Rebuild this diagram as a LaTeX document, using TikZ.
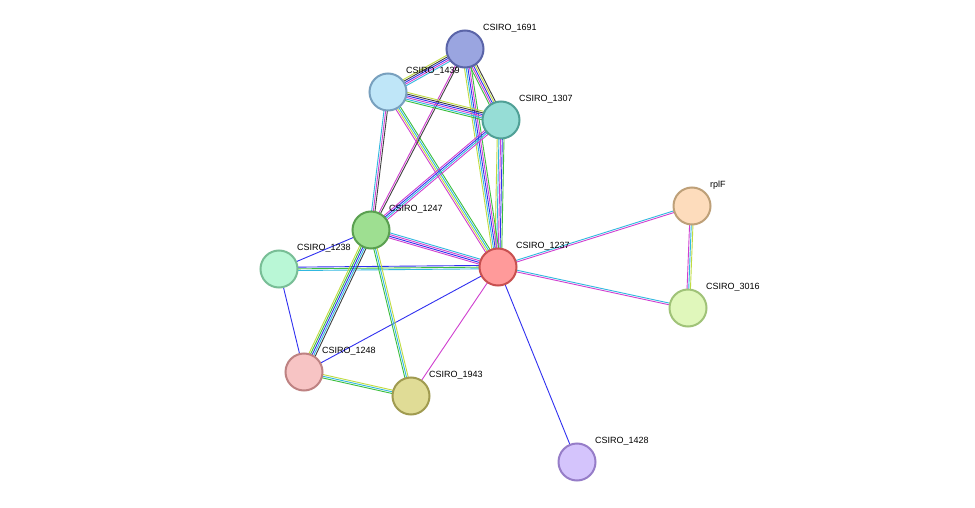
\documentclass[tikz,border=0pt]{standalone}
\usepackage{fontspec}
\setmainfont{Liberation Sans}
\usetikzlibrary{calc}
\definecolor{cG}{HTML}{3DBF3D}
\definecolor{cB}{HTML}{3030F0}
\definecolor{cM}{HTML}{D040D0}
\definecolor{cC}{HTML}{30B8E0}
\definecolor{cK}{HTML}{404040}
\definecolor{cY}{HTML}{C0DC40}
\newcommand\sedge[4]{%
  \foreach \c [count=\i] in {#4} {%
    \pgfmathsetmacro\off{(\i-(#3+1)/2)*1.7}%
    \draw[\c,line width=0.9pt] ($(#1)!\off pt!90:(#2)$) -- ($(#2)!\off pt!-90:(#1)$);
  }}
\begin{document}
\begin{tikzpicture}[x=1pt,y=-1pt,
  prot/.style={circle,minimum size=37pt,inner sep=0pt,line width=2pt},
  lab/.style={anchor=west,font=\fontsize{9}{10}\selectfont,inner sep=0pt}]
\useasboundingbox[fill=white] (0,0) rectangle (975,508);
\path
 (465,49) coordinate (n1691)
 (388,92) coordinate (n1439)
 (501,120) coordinate (n1307)
 (371,230) coordinate (n1247)
 (279,269) coordinate (n1238)
 (498,267) coordinate (n1237)
 (692,206) coordinate (nrplF)
 (688,308) coordinate (n3016)
 (304,372) coordinate (n1248)
 (411,396) coordinate (n1943)
 (577,462) coordinate (n1428);
\sedge{n1237}{nrplF}{2}{cM,cC}
\sedge{n1237}{n3016}{2}{cM,cC}
\sedge{nrplF}{n3016}{3}{cM,cC,cY}
\sedge{n1237}{n1428}{1}{cB}
\sedge{n1237}{n1943}{1}{cM}
\sedge{n1237}{n1248}{1}{cB}
\sedge{n1237}{n1238}{3}{cB,cG,cC}
\sedge{n1237}{n1247}{4}{cC,cM,cB,cM}
\sedge{n1237}{n1439}{4}{cG,cC,cY,cM}
\sedge{n1237}{n1307}{5}{cG,cB,cM,cC,cY}
\sedge{n1237}{n1691}{5}{cG,cM,cB,cC,cY}
\sedge{n1238}{n1247}{1}{cB}
\sedge{n1238}{n1248}{1}{cB}
\sedge{n1247}{n1248}{5}{cY,cG,cB,cC,cK}
\sedge{n1247}{n1943}{3}{cG,cC,cY}
\sedge{n1248}{n1943}{3}{cG,cC,cY}
\sedge{n1247}{n1439}{3}{cK,cM,cC}
\sedge{n1247}{n1691}{2}{cK,cM}
\sedge{n1247}{n1307}{4}{cM,cC,cB,cM}
\sedge{n1439}{n1691}{5}{cC,cM,cB,cK,cY}
\sedge{n1439}{n1307}{6}{cG,cC,cM,cB,cK,cY}
\sedge{n1691}{n1307}{5}{cG,cM,cB,cY,cK}
\node[prot,fill={rgb,255:red,154;green,165;blue,224},draw={rgb,255:red,90;green,100;blue,168}] (a1691) at (n1691) {};
\node[prot,fill={rgb,255:red,191;green,230;blue,248},draw={rgb,255:red,120;green,160;blue,190}] (a1439) at (n1439) {};
\node[prot,fill={rgb,255:red,150;green,221;blue,214},draw={rgb,255:red,80;green,160;blue,150}] (a1307) at (n1307) {};
\node[prot,fill={rgb,255:red,158;green,223;blue,145},draw={rgb,255:red,90;green,160;blue,80}] (a1247) at (n1247) {};
\node[prot,fill={rgb,255:red,185;green,247;blue,214},draw={rgb,255:red,120;green,190;blue,150}] (a1238) at (n1238) {};
\node[prot,fill={rgb,255:red,255;green,154;blue,154},draw={rgb,255:red,200;green,80;blue,80}] (a1237) at (n1237) {};
\node[prot,fill={rgb,255:red,253;green,220;blue,188},draw={rgb,255:red,190;green,160;blue,120}] (arplF) at (nrplF) {};
\node[prot,fill={rgb,255:red,224;green,247;blue,187},draw={rgb,255:red,160;green,195;blue,120}] (a3016) at (n3016) {};
\node[prot,fill={rgb,255:red,247;green,196;blue,196},draw={rgb,255:red,190;green,130;blue,130}] (a1248) at (n1248) {};
\node[prot,fill={rgb,255:red,224;green,220;blue,150},draw={rgb,255:red,160;green,155;blue,80}] (a1943) at (n1943) {};
\node[prot,fill={rgb,255:red,212;green,196;blue,252},draw={rgb,255:red,150;green,125;blue,200}] (a1428) at (n1428) {};
\node[lab] (l1691) at (483,28) {CSIRO\_1691};
\node[lab] (l1439) at (406,71) {CSIRO\_1439};
\node[lab] (l1307) at (519,99) {CSIRO\_1307};
\node[lab] (l1247) at (389,209) {CSIRO\_1247};
\node[lab] (l1238) at (297,248) {CSIRO\_1238};
\node[lab] (l1237) at (516,246) {CSIRO\_1237};
\node[lab] (lrplF) at (710,185) {rplF};
\node[lab] (l3016) at (706,287) {CSIRO\_3016};
\node[lab] (l1248) at (322,351) {CSIRO\_1248};
\node[lab] (l1943) at (429,375) {CSIRO\_1943};
\node[lab] (l1428) at (595,441) {CSIRO\_1428};
\end{tikzpicture}
\end{document}
